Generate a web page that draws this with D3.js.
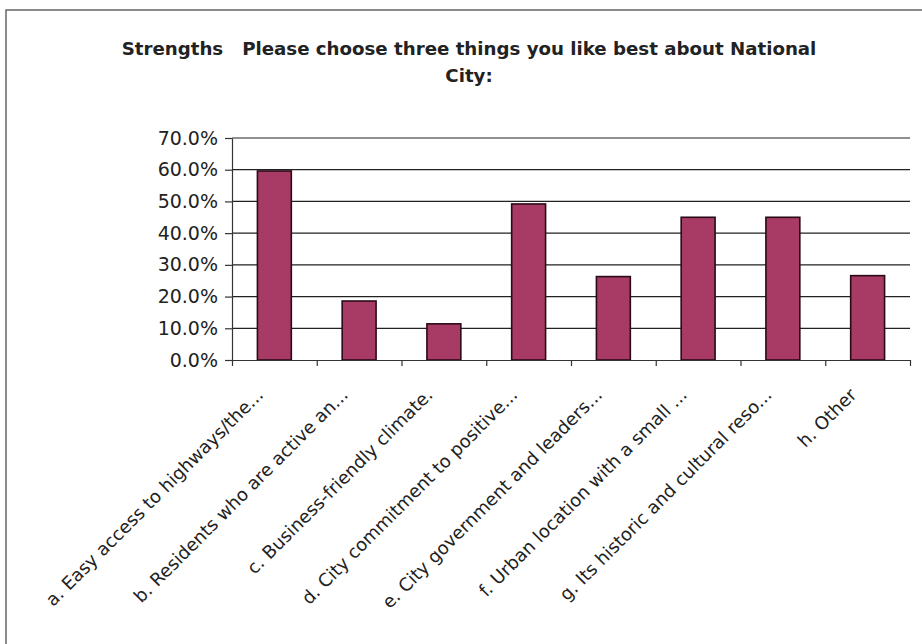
<!DOCTYPE html>
<html><head><meta charset="utf-8">
<script src="https://cdn.jsdelivr.net/npm/d3@7"></script>
<style>body{margin:0;background:#fff}svg{display:block}</style>
</head><body>
<script>
const categories = [
  "a. Easy access to highways/the...",
  "b. Residents who are active an...",
  "c. Business-friendly climate.",
  "d. City commitment to positive...",
  "e. City government and leaders...",
  "f. Urban location with a small  ...",
  "g. Its historic and cultural reso...",
  "h. Other"
];
const values = [59.6, 18.6, 11.4, 49.2, 26.3, 45.0, 45.0, 26.6];
const yTicks = [0, 10, 20, 30, 40, 50, 60, 70];
const titleLines = ["Strengths   Please choose three things you like best about National", "City:"];

const W = 922, H = 644;
const m = {left: 232, top: 138, right: 12, bottom: 284};
const svg = d3.select("body").append("svg").attr("width", W).attr("height", H);

svg.append("rect").attr("x", 6).attr("y", 10).attr("width", 940).attr("height", 660)
  .attr("fill", "none").attr("stroke", "#666").attr("stroke-width", 1.5);

const x = d3.scaleBand().domain(categories).range([m.left, W - m.right]).paddingInner(0.6).paddingOuter(0.3);
const xb = d3.scaleLinear().domain([0, categories.length]).range([m.left, W - m.right]);
const y = d3.scaleLinear().domain([0, 70]).range([H - m.bottom, m.top]);

// gridlines
svg.append("g").selectAll("line").data(yTicks.slice(1)).join("line")
  .attr("x1", m.left).attr("x2", W - m.right)
  .attr("y1", d => y(d)).attr("y2", d => y(d))
  .attr("stroke", "#222").attr("stroke-width", 1.2);

// y axis
const yAxis = svg.append("g").attr("transform", `translate(${m.left},0)`)
  .call(d3.axisLeft(y).tickValues(yTicks).tickFormat(d => d.toFixed(1) + "%").tickSize(7).tickSizeOuter(0).tickPadding(7));
yAxis.selectAll("text").attr("font-family", "DejaVu Sans").attr("font-size", 19).attr("fill", "#222");
yAxis.selectAll("line,path").attr("stroke", "#333").attr("stroke-width", 1.2);

// bars
svg.append("g").selectAll("rect").data(values).join("rect")
  .attr("x", (d, i) => x(categories[i]))
  .attr("width", x.bandwidth())
  .attr("y", d => y(d))
  .attr("height", d => y(0) - y(d))
  .attr("fill", "#a83a66").attr("stroke", "#2a0a16").attr("stroke-width", 1.6);

// x axis line + boundary ticks
const xg = svg.append("g").attr("transform", `translate(0,${y(0)})`)
  .call(d3.axisBottom(xb).tickValues(d3.range(0, categories.length + 1)).tickSize(6).tickSizeOuter(0).tickFormat(""));
xg.selectAll("line,path").attr("stroke", "#333").attr("stroke-width", 1.2);

// category labels
svg.append("g").selectAll("text").data(categories).join("text")
  .attr("transform", d => `translate(${x(d) + x.bandwidth() / 2 - 10},${y(0) + 36}) rotate(-45)`)
  .attr("text-anchor", "end")
  .attr("font-family", "DejaVu Sans").attr("font-size", 18).attr("fill", "#222")
  .text(d => d);

// title
svg.append("g").selectAll("text").data(titleLines).join("text")
  .attr("x", 469).attr("y", (d, i) => 55 + i * 27)
  .attr("text-anchor", "middle")
  .attr("font-family", "DejaVu Sans").attr("font-weight", "bold").attr("font-size", 18.2).attr("fill", "#222")
  .attr("xml:space", "preserve").style("white-space", "pre")
  .text(d => d);
</script>
</body></html>
